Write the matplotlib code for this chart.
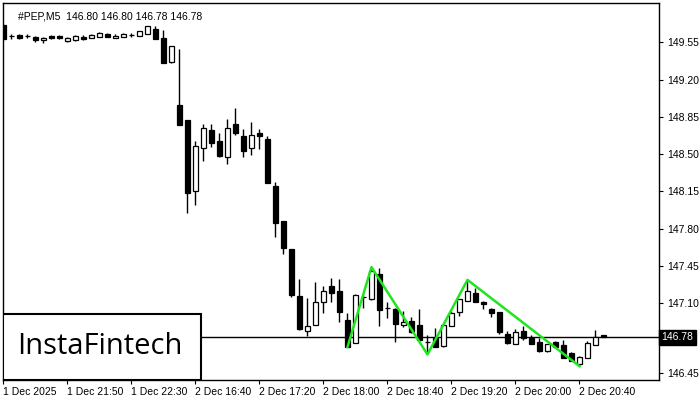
import matplotlib
matplotlib.use("Agg")
import matplotlib.pyplot as plt
from matplotlib.patches import Rectangle

plt.rcParams["font.family"] = ["Liberation Sans", "DejaVu Sans"]

# --- 5-minute candles #PEP ---
opens = [149.71, 149.61, 149.62, 149.61, 149.60, 149.57, 149.61, 149.61, 149.56, 149.57,
         149.60, 149.59, 149.60, 149.63, 149.59, 149.60, 149.62, 149.61, 149.63, 149.68,
         149.59, 149.37, 148.96, 148.82, 148.15, 148.56, 148.73, 148.62, 148.47, 148.78,
         148.67, 148.56, 148.70, 148.64, 148.20, 147.87, 147.61, 147.17, 146.84, 146.90,
         147.11, 147.26, 147.22, 146.94, 146.73, 147.16, 147.14, 147.38, 147.06, 147.05,
         146.90, 146.93, 146.90, 146.74, 146.77, 146.70, 146.89, 147.02, 147.12, 147.20,
         147.11, 147.05, 147.02, 146.81, 146.72, 146.84, 146.77, 146.74, 146.65, 146.74,
         146.71, 146.63, 146.53, 146.59, 146.71, 146.80]
highs = [149.72, 149.63, 149.63, 149.63, 149.61, 149.60, 149.62, 149.62, 149.60, 149.62,
         149.62, 149.63, 149.65, 149.64, 149.63, 149.64, 149.64, 149.66, 149.70, 149.70,
         149.67, 149.52, 149.49, 148.82, 148.62, 148.78, 148.78, 148.70, 148.83, 148.93,
         148.74, 148.80, 148.74, 148.67, 148.24, 147.87, 147.61, 147.33, 147.15, 147.30,
         147.26, 147.34, 147.33, 147.01, 147.19, 147.19, 147.44, 147.43, 147.11, 147.06,
         147.03, 146.97, 147.05, 146.80, 146.87, 146.91, 147.03, 147.14, 147.32, 147.24,
         147.12, 147.06, 147.02, 146.84, 146.86, 146.89, 146.80, 146.77, 146.72, 146.75,
         146.76, 146.64, 146.61, 146.75, 146.85, 146.80]
lows = [149.57, 149.58, 149.58, 149.59, 149.55, 149.54, 149.58, 149.58, 149.55, 149.56,
        149.57, 149.59, 149.60, 149.60, 149.59, 149.60, 149.60, 149.61, 149.63, 149.58,
        149.36, 149.36, 148.77, 147.95, 148.02, 148.44, 148.57, 148.47, 148.41, 148.68,
        148.47, 148.49, 148.55, 148.23, 147.72, 147.56, 147.16, 146.85, 146.79, 146.90,
        147.01, 147.11, 146.92, 146.69, 146.73, 147.06, 147.13, 146.89, 146.96, 146.74,
        146.88, 146.82, 146.75, 146.63, 146.69, 146.69, 146.89, 146.98, 147.12, 147.11,
        147.05, 146.97, 146.81, 146.72, 146.72, 146.76, 146.72, 146.64, 146.64, 146.69,
        146.59, 146.56, 146.51, 146.59, 146.71, 146.78]
closes = [149.58, 149.61, 149.59, 149.61, 149.57, 149.59, 149.59, 149.59, 149.59, 149.61,
          149.58, 149.62, 149.64, 149.60, 149.61, 149.63, 149.62, 149.66, 149.70, 149.58,
          149.36, 149.52, 148.77, 148.14, 148.58, 148.75, 148.61, 148.48, 148.75, 148.70,
          148.53, 148.68, 148.67, 148.23, 147.85, 147.62, 147.18, 146.86, 146.89, 147.11,
          147.22, 147.20, 147.02, 146.69, 147.18, 147.16, 147.40, 147.04, 147.06, 146.91,
          146.92, 146.83, 146.76, 146.74, 146.69, 146.90, 147.01, 147.14, 147.22, 147.11,
          147.09, 147.01, 146.83, 146.73, 146.83, 146.77, 146.72, 146.65, 146.72, 146.69,
          146.59, 146.56, 146.60, 146.73, 146.78, 146.78]

time_ticks = [0, 8, 16, 24, 32, 40, 48, 56, 64, 72]
time_labels = ["1 Dec 2025", "1 Dec 21:50", "1 Dec 22:30", "2 Dec 16:40", "2 Dec 17:20",
               "2 Dec 18:00", "2 Dec 18:40", "2 Dec 19:20", "2 Dec 20:00", "2 Dec 20:40"]
price_ticks = [146.45, 147.10, 147.45, 147.80, 148.15, 148.50, 148.85, 149.20, 149.55]
last_price = 146.78

# pattern (green) : bar index, price
pattern_idx = [43, 46, 53, 58, 72]
pattern_px = [146.69, 147.44, 146.62, 147.32, 146.51]

fig = plt.figure(figsize=(7, 4), dpi=100)
ax = fig.add_axes([3 / 700, 20 / 400, 656 / 700, 377 / 400])

n = len(opens)
xs = list(range(n))
ax.vlines(xs, lows, highs, color="black", lw=1, zorder=2)
for i in xs:
    o, c = opens[i], closes[i]
    fc = "white" if c >= o else "black"
    ax.add_patch(Rectangle((i - 0.3, min(o, c)), 0.6, abs(c - o), facecolor=fc,
                           edgecolor="black", lw=0.9, zorder=3))

ax.axhline(last_price, color="black", lw=1, zorder=1)
ax.plot(pattern_idx, pattern_px, color="#1ee61e", lw=1.8, zorder=4)

ax.set_xlim(-0.06, 81.94)
ax.set_ylim(146.38, 149.92)

ax.yaxis.tick_right()
ax.set_yticks(price_ticks)
ax.set_yticklabels([f"{p:.2f}" for p in price_ticks])
ax.tick_params(axis="y", direction="out", length=3, width=0.8, labelsize=7.5, pad=3)
ax.set_xticks(time_ticks)
ax.set_xticklabels(time_labels)
ax.tick_params(axis="x", direction="out", length=3, width=0.8, labelsize=7.5, pad=2)
for lab in ax.get_xticklabels():
    lab.set_horizontalalignment("left")
for s in ax.spines.values():
    s.set_linewidth(1)
    s.set_color("black")

# current price box
ax.text(1.004, last_price, f"{last_price:.2f}", transform=ax.get_yaxis_transform(),
        ha="left", va="center", fontsize=7.5, color="white",
        bbox=dict(boxstyle="square,pad=0.25", fc="black", ec="black"))

ax.text(0.023, 0.978, "#PEP,M5  146.80 146.80 146.78 146.78", transform=ax.transAxes,
        ha="left", va="top", fontsize=7.5, color="black")

# logo
logo = Rectangle((0, 0), 198 / 656, 66 / 377, transform=ax.transAxes,
                 facecolor="white", edgecolor="black", lw=1.5, zorder=5)
ax.add_patch(logo)
ax.text(97 / 656, 33 / 377, "InstaFintech", transform=ax.transAxes, ha="center",
        va="center", fontsize=21, family="Open Sans", color="black", zorder=6)

fig.savefig("out.png", dpi=100)
